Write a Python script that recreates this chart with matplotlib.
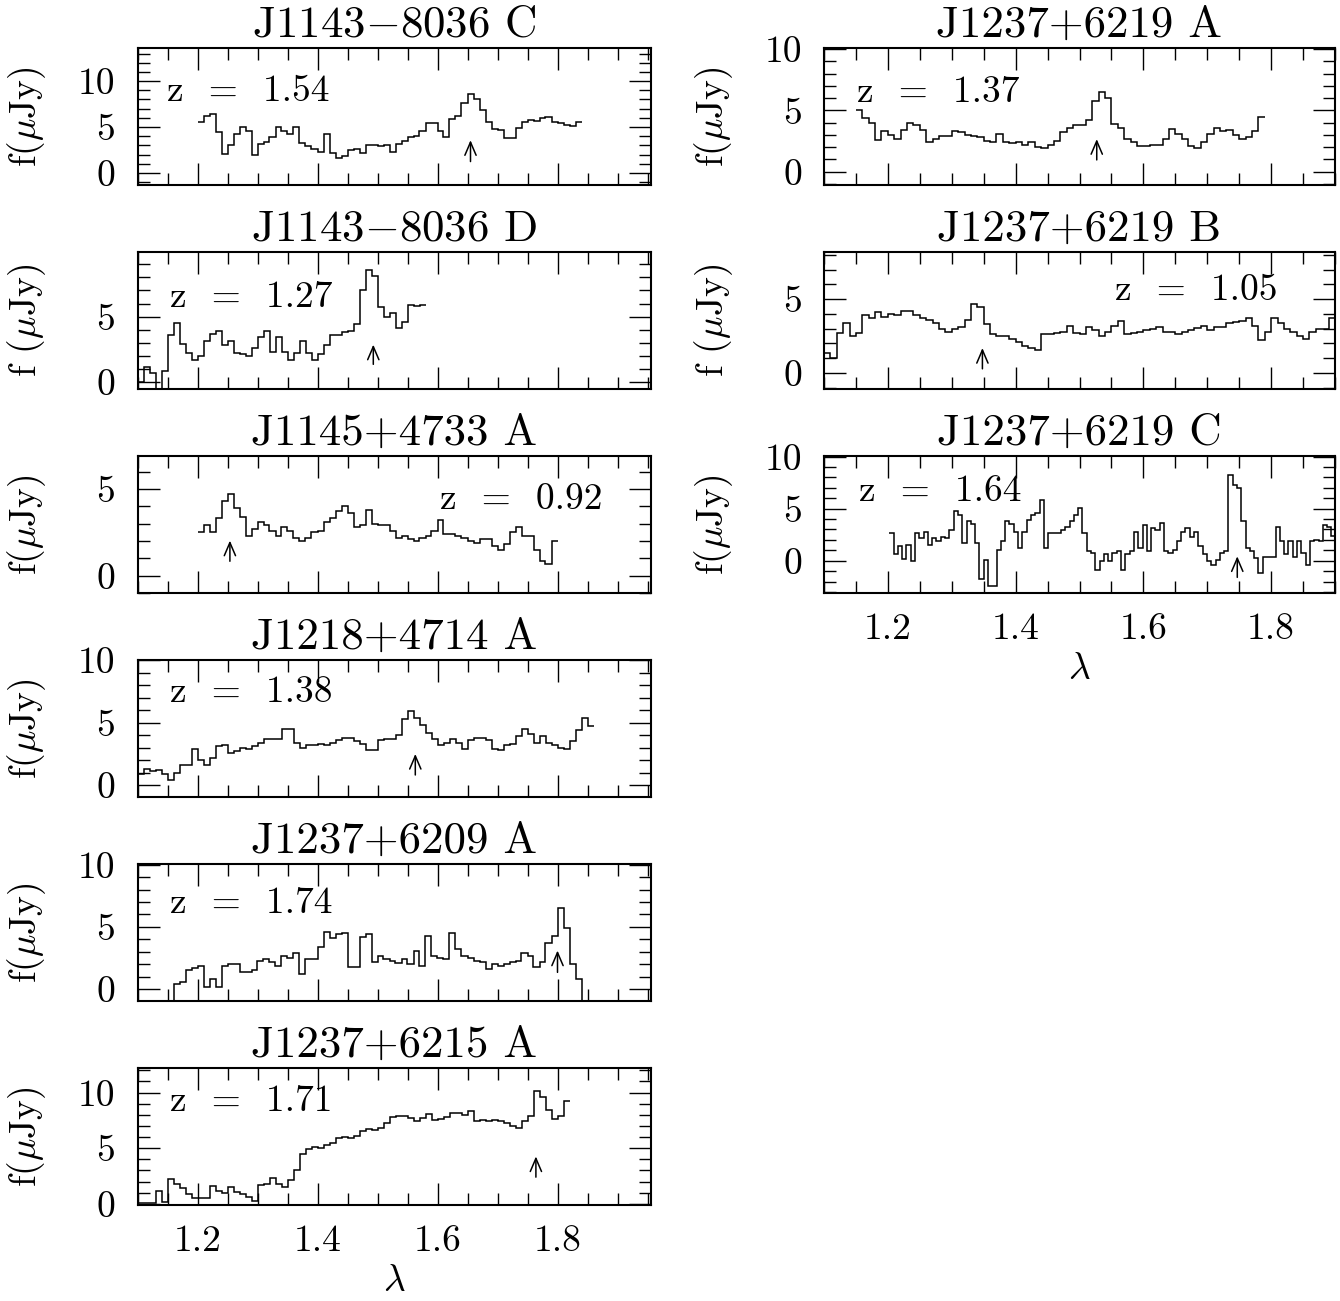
import matplotlib.pyplot as plt
import numpy as np
from matplotlib.ticker import MultipleLocator, FormatStrFormatter

plt.rcParams['font.family'] = 'cmr10'
plt.rcParams['mathtext.fontset'] = 'cm'
plt.rcParams['axes.formatter.use_mathtext'] = True
plt.rcParams['font.size'] = 27

# --- data ---------------------------------------------------------------
titles = ['J1143$-$8036 C', 'J1143$-$8036 D', 'J1145+4733 A', 'J1218+4714 A',
          'J1237+6209 A', 'J1237+6215 A',
          'J1237+6219 A', 'J1237+6219 B', 'J1237+6219 C']
redshifts = ['1.54', '1.27', '0.92', '1.38', '1.74', '1.71', '1.37', '1.05', '1.64']
ylabels = [r'f($\mu$Jy)', r'f ($\mu$Jy)', r'f($\mu$Jy)', r'f($\mu$Jy)', r'f($\mu$Jy)',
           r'f($\mu$Jy)', r'f($\mu$Jy)', r'f ($\mu$Jy)', r'f($\mu$Jy)']

# wavelength of first bin and bin width (micron)
lam_start = [1.20, 1.10, 1.20, 1.10, 1.15, 1.10, 1.15, 1.10, 1.2022]
lam_step = [0.01, 0.01, 0.01, 0.01, 0.01, 0.01, 0.01, 0.01, 0.00672]

flux_1143C = [5.5, 6.2, 6.4, 4.5, 2.1, 3.1, 4.3, 5.0, 4.6, 2.0, 3.2, 3.4, 3.9, 5.0,
              4.6, 4.2, 5.0, 3.3, 2.9, 2.6, 2.3, 4.2, 2.2, 1.6, 1.8, 2.5, 2.6, 2.2,
              3.0, 3.1, 2.9, 3.1, 2.3, 3.2, 3.5, 3.9, 4.0, 4.6, 5.4, 5.4, 4.6, 3.9,
              5.9, 6.2, 7.6, 8.6, 8.1, 6.9, 5.5, 4.8, 4.7, 3.8, 3.8, 4.9, 5.6, 5.8,
              5.7, 6.0, 6.1, 5.6, 5.4, 5.2, 5.1, 5.6]
flux_1143D = [0.0, 1.1, 0.7, -1.0, 0.8, 3.6, 4.5, 2.9, 2.2, 1.7, 2.0, 3.1, 3.7, 3.9,
              2.8, 3.1, 2.2, 2.1, 2.0, 2.6, 3.4, 3.9, 2.3, 3.4, 2.3, 1.7, 2.2, 3.1,
              2.2, 1.7, 2.1, 2.8, 3.6, 3.6, 3.8, 3.9, 4.4, 7.0, 8.6, 8.1, 5.7, 5.0,
              5.3, 4.1, 4.6, 5.9, 5.8, 5.9]
flux_1145A = [2.5, 2.9, 2.5, 3.3, 4.3, 4.7, 3.9, 3.4, 2.3, 2.7, 3.1, 2.9, 2.6, 2.3,
              2.8, 2.6, 2.2, 2.0, 2.2, 2.5, 2.6, 3.1, 3.3, 3.7, 4.0, 3.6, 2.8, 2.9,
              3.8, 3.0, 2.9, 2.9, 2.6, 2.2, 2.3, 2.1, 2.0, 2.2, 2.3, 2.6, 3.2, 2.4,
              2.4, 2.3, 2.2, 2.0, 1.9, 2.1, 2.1, 1.7, 1.5, 1.8, 2.5, 2.8, 2.3, 2.3,
              1.5, 0.85, 0.7, 2.0]
flux_1218A = [0.9, 1.3, 1.1, 1.2, 0.9, 0.4, 1.0, 1.6, 1.6, 2.9, 2.0, 1.6, 2.2, 3.1,
              3.2, 2.6, 2.7, 3.0, 2.9, 3.1, 3.4, 3.7, 3.7, 3.7, 4.5, 4.5, 3.4, 3.0,
              3.2, 3.2, 3.3, 3.2, 3.4, 3.6, 3.8, 3.8, 3.5, 3.3, 2.8, 2.8, 3.6, 3.7,
              3.7, 4.0, 5.3, 5.9, 5.4, 4.8, 4.2, 3.7, 3.2, 3.4, 3.7, 3.4, 2.9, 3.6,
              3.8, 3.8, 3.6, 2.9, 2.8, 3.2, 3.3, 3.9, 4.5, 4.1, 3.4, 3.9, 3.4, 3.2,
              3.0, 2.9, 3.5, 4.4, 5.4, 4.7]
flux_6209A = [-1.5, 0.4, 0.6, 1.5, 1.7, 1.9, 0.2, 0.8, 0.2, 1.9, 2.0, 2.0, 1.4, 1.4,
              1.5, 2.3, 2.4, 2.2, 1.9, 2.7, 2.5, 2.9, 1.2, 2.4, 2.4, 3.4, 4.6, 4.1,
              4.4, 4.5, 1.75, 1.75, 4.2, 4.4, 2.2, 2.7, 2.4, 2.3, 2.1, 2.4, 2.0, 3.1,
              1.9, 4.3, 2.7, 2.5, 2.4, 4.5, 3.2, 2.7, 2.5, 2.3, 2.2, 1.6, 2.0, 1.9,
              2.0, 2.2, 2.3, 2.9, 2.7, 1.8, 2.2, 3.7, 4.3, 6.5, 4.9, 2.0, 0.8, -1.5]
flux_6215A = [0.05, 0.1, 0.1, 1.15, 0.2, 2.25, 1.8, 1.4, 0.9, 0.5, 0.5, 0.5, 1.6, 1.2,
              1.0, 1.5, 1.1, 0.9, 0.6, 0.3, 1.7, 1.8, 2.3, 1.8, 1.5, 2.1, 3.0, 4.5,
              4.9, 5.1, 5.0, 5.3, 5.5, 5.9, 6.0, 5.9, 6.1, 6.5, 6.7, 6.6, 6.8, 7.3,
              7.8, 7.9, 7.9, 7.7, 7.4, 7.7, 8.1, 7.5, 7.6, 7.8, 8.2, 8.2, 8.0, 8.3,
              7.4, 7.5, 7.4, 7.5, 7.4, 7.3, 7.0, 6.8, 7.4, 7.9, 10.1, 9.6, 8.4, 7.6,
              7.9, 9.2]
flux_6219A = [5.0, 4.4, 4.0, 2.6, 3.3, 3.0, 2.7, 3.4, 4.0, 3.8, 3.4, 2.4, 2.7, 2.9,
              2.9, 3.3, 3.2, 3.0, 2.9, 2.8, 2.5, 2.4, 3.1, 2.4, 2.3, 2.4, 2.2, 2.4,
              2.0, 1.9, 2.2, 2.5, 3.2, 3.6, 3.8, 3.8, 4.2, 5.8, 6.5, 6.0, 3.9, 3.6,
              2.7, 2.4, 2.1, 2.1, 2.2, 2.2, 2.7, 3.45, 3.1, 2.7, 2.1, 1.9, 2.4, 3.1,
              3.6, 3.3, 3.4, 3.0, 2.7, 2.8, 3.3, 4.5]
flux_6219B = [1.35, 1.0, 2.7, 3.4, 2.5, 2.7, 3.9, 3.7, 4.1, 3.8, 4.0, 3.9, 4.2, 4.2,
              3.9, 3.7, 3.6, 3.4, 3.0, 2.8, 3.0, 3.1, 3.6, 4.7, 4.5, 3.3, 2.6, 2.5,
              2.5, 2.3, 2.1, 1.8, 1.7, 1.55, 2.6, 2.65, 2.7, 2.8, 3.2, 2.7, 2.6, 3.1,
              2.9, 2.5, 2.8, 3.2, 3.5, 2.6, 2.7, 2.8, 2.9, 2.95, 3.1, 2.8, 2.8, 2.6,
              2.75, 2.9, 3.05, 3.15, 2.9, 3.1, 3.1, 3.4, 3.45, 3.5, 3.7, 3.2, 2.25,
              2.8, 3.7, 3.4, 3.0, 2.8, 2.5, 2.3, 2.8, 3.0, 3.0, 3.7]
flux_6219C = [2.65, 0.6, 1.4, 0.2, 1.5, -0.05, 2.65, 2.2, 2.8, 1.5, 2.2, 1.85, 2.25,
              2.2, 2.9, 4.8, 4.4, 1.7, 3.8, 3.5, 1.7, -1.8, 0.1, -2.45, -2.45, 1.05,
              1.85, 3.8, 3.5, 2.8, 1.2, 2.8, 3.9, 4.4, 4.6, 5.85, 1.2, 2.65, 2.65,
              2.65, 2.95, 3.25, 3.8, 4.4, 5.05, 2.65, 0.9, 0.75, -0.85, -0.05, 0.6,
              -0.05, 0.75, 0.9, -0.85, 0.6, 0.9, 2.8, 1.2, 3.45, 0.9, 3.1, 2.95, 3.6,
              0.9, 0.75, 1.05, 1.85, 2.8, 3.1, 2.3, 2.8, 1.4, 0.6, -0.05, -0.4, 0.1,
              0.75, 0.9, 8.25, 7.3, 7.0, 3.8, 1.2, 0.9, 0.25, -1.2, 0.4, 0.4, 0.4,
              3.2, 1.85, 0.6, 1.85, 0.4, 1.85, 0.75, -0.4, 1.85, 2.0, 1.85, 3.45,
              3.2, 2.35]
fluxes = [flux_1143C, flux_1143D, flux_1145A, flux_1218A, flux_6209A, flux_6215A,
          flux_6219A, flux_6219B, flux_6219C]

# marker arrows: wavelength, bottom, top (uJy)
arrow_lam = [1.655, 1.493, 1.254, 1.563, 1.800, 1.764, 1.527, 1.348, 1.747]
arrow_lo = [1.25, 1.34, 0.83, 0.81, 1.35, 2.40, 0.95, 0.27, -1.60]
arrow_hi = [3.57, 2.85, 2.02, 2.49, 3.10, 4.26, 2.65, 1.68, 0.42]

ylims = [(-1.3, 13.6), (-0.55, 9.95), (-1.0, 6.9), (-0.95, 10.0), (-0.95, 10.05),
         (-0.1, 12.2), (-1.1, 10.1), (-1.1, 8.2), (-3.1, 10.05)]

# --- layout ---------------------------------------------------------------
W, H = 1340, 1301
fig = plt.figure(figsize=(W / 100, H / 100), dpi=100)

col = [0, 0, 0, 0, 0, 0, 1, 1, 1]
row = [0, 1, 2, 3, 4, 5, 0, 1, 2]
zpos = [(0.058, 0.612), (0.063, 0.599), (0.590, 0.610), (0.063, 0.695),
        (0.063, 0.643), (0.063, 0.688), (0.064, 0.609), (0.569, 0.648),
        (0.068, 0.673)]
col_left = [137.5, 824]
col_width = [513, 511]
col_xlim = [(1.1, 1.955), (1.1, 1.9)]
last_row = [5, 2]

for i in range(9):
    c, r = col[i], row[i]
    top = 48 + 204 * r
    ax = fig.add_axes([col_left[c] / W, 1 - (top + 137) / H, col_width[c] / W, 137 / H])

    vals = np.array(fluxes[i])
    edges = lam_start[i] + lam_step[i] * np.arange(len(vals) + 1)
    ax.stairs(vals, edges, baseline=None, color='k', lw=1.1)

    ax.annotate('', xy=(arrow_lam[i], arrow_hi[i]), xytext=(arrow_lam[i], arrow_lo[i]),
                arrowprops=dict(arrowstyle='->,head_length=0.35,head_width=0.15',
                                lw=1.1, color='k', shrinkA=0, shrinkB=0))

    ax.text(zpos[i][0], zpos[i][1], 'z  =  ' + redshifts[i], transform=ax.transAxes,
            ha='left', va='baseline')

    ax.set_xlim(*col_xlim[c])
    ax.set_ylim(*ylims[i])
    ax.set_title(titles[i], pad=8)
    ax.set_ylabel(ylabels[i])
    ax.yaxis.set_label_coords(-0.175, 0.5)

    ax.xaxis.set_major_locator(MultipleLocator(0.2))
    ax.xaxis.set_minor_locator(MultipleLocator(0.05))
    ax.yaxis.set_major_locator(MultipleLocator(5))
    ax.yaxis.set_minor_locator(MultipleLocator(1))
    ax.xaxis.set_major_formatter(FormatStrFormatter('%.1f'))
    ax.yaxis.set_major_formatter(FormatStrFormatter('%d'))
    ax.tick_params(which='both', direction='in', top=True, right=True, width=1.0)
    ax.tick_params(which='major', length=16)
    ax.tick_params(which='minor', length=8.5)
    ax.tick_params(axis='y', pad=16)
    ax.tick_params(axis='x', pad=14)
    for s in ax.spines.values():
        s.set_linewidth(1.5)

    if r == last_row[c]:
        ax.set_xlabel(r'$\lambda$', labelpad=5)
    else:
        ax.tick_params(labelbottom=False)

fig.savefig('out.png', dpi=100)
